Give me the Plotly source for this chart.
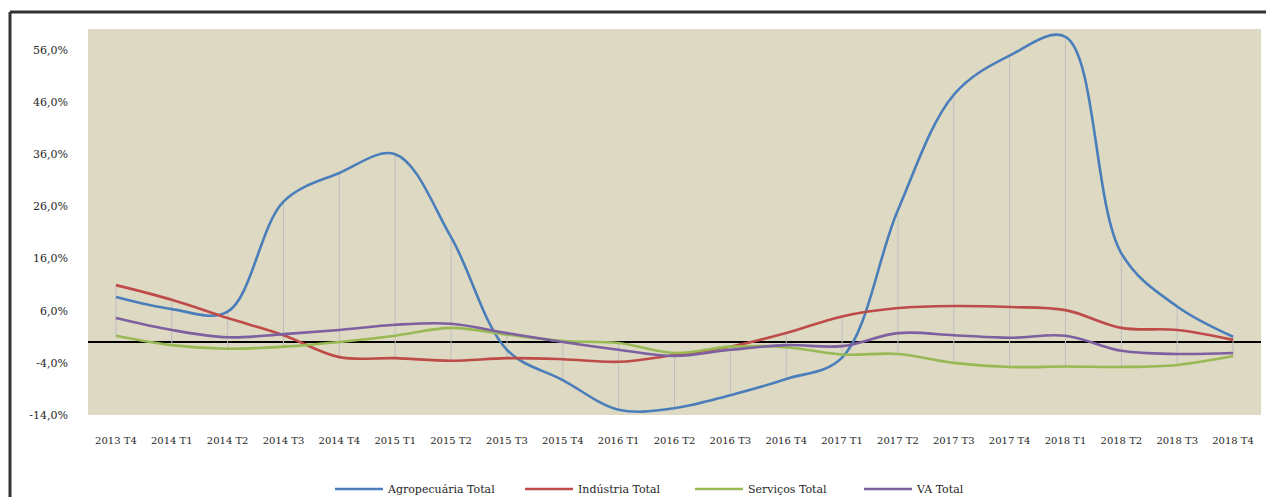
import plotly.graph_objects as go

categories = ["2013 T4", "2014 T1", "2014 T2", "2014 T3", "2014 T4", "2015 T1", "2015 T2",
              "2015 T3", "2015 T4", "2016 T1", "2016 T2", "2016 T3", "2016 T4", "2017 T1",
              "2017 T2", "2017 T3", "2017 T4", "2018 T1", "2018 T2", "2018 T3", "2018 T4"]

agro = [8.6, 6.3, 5.8, 26.9, 32.4, 36.0, 20.1, -1.5, -7.3, -13.0, -12.7, -10.2, -7.1, -3.0,
        25.3, 47.4, 54.9, 58.5, 17.0, 6.8, 1.0]
industria = [10.9, 8.1, 4.6, 1.3, -2.9, -3.1, -3.6, -3.1, -3.3, -3.8, -2.5, -0.9, 1.7, 4.9,
             6.5, 6.9, 6.7, 6.1, 2.7, 2.3, 0.4]
servicos = [1.2, -0.6, -1.3, -0.9, 0.0, 1.2, 2.7, 1.4, 0.2, -0.2, -2.1, -0.9, -1.0, -2.4,
            -2.3, -4.0, -4.8, -4.7, -4.8, -4.4, -2.7]
va = [4.6, 2.3, 0.9, 1.5, 2.3, 3.3, 3.5, 1.7, 0.0, -1.5, -2.7, -1.5, -0.6, -0.8,
      1.7, 1.3, 0.8, 1.2, -1.7, -2.3, -2.1]

series_names = ["Agropecuária Total", "Indústria Total", "Serviços Total", "VA Total"]
series_values = [agro, industria, servicos, va]
series_colors = ["#4A7EBB", "#BE4B48", "#98B954", "#7D60A0"]

ytick_vals = [56, 46, 36, 26, 16, 6, -4, -14]
ytick_text = ["56,0%", "46,0%", "36,0%", "26,0%", "16,0%", "6,0%", "-4,0%", "-14,0%"]

# page body has an 8px margin: figure is drawn 8px smaller, coords in reference pixels
OFF = 8
W, H = 1274 - OFF, 497 - OFF
L, R, T, B = 88, 1261, 29, 415          # plot area in reference pixels
pw, ph = R - L, B - T


def px(x):
    return (x - L) / pw


def py(y):
    return (B - y) / ph


TXT = "#262626"
FONT = "DejaVu Serif"

fig = go.Figure()

# high-low lines (max to min across series at each category)
hx, hy = [], []
for i, c in enumerate(categories):
    vals = [s[i] for s in series_values]
    hx += [c, c, None]
    hy += [max(vals), min(vals), None]
fig.add_trace(go.Scatter(x=hx, y=hy, mode="lines", line=dict(color="#BFBFBF", width=1),
                         showlegend=False, hoverinfo="skip"))

legend_ids = ["legend", "legend2", "legend3", "legend4"]
legend_x = [330, 520, 690, 859]
for name, vals, col, lid in zip(series_names, series_values, series_colors, legend_ids):
    fig.add_trace(go.Scatter(x=categories, y=vals, mode="lines", name=name, legend=lid,
                             line=dict(color=col, width=2.6, shape="spline", smoothing=1.0)))

legend_common = dict(orientation="h", xanchor="left", yanchor="middle", y=py(489),
                     font=dict(family=FONT, size=11, color=TXT),
                     bgcolor="rgba(0,0,0,0)", borderwidth=0, itemwidth=48)
layout_legends = {lid: dict(legend_common, x=px(lx)) for lid, lx in zip(legend_ids, legend_x)}

fig.update_layout(
    width=W, height=H,
    margin=dict(l=L - OFF, r=(1274 - R), t=T - OFF, b=497 - B, autoexpand=False),
    paper_bgcolor="white",
    plot_bgcolor="#DDD9C3",
    font=dict(family=FONT, size=10, color=TXT),
    showlegend=True,
    xaxis=dict(type="category", showgrid=False, showline=False, ticks="",
               ticklabelstandoff=18, tickfont=dict(family=FONT, size=10, color=TXT),
               range=[-0.5, len(categories) - 0.5]),
    yaxis=dict(range=[-14, 60], tickvals=ytick_vals, ticktext=ytick_text,
               showgrid=False, showline=False, ticks="", ticklabelstandoff=19,
               zeroline=True, zerolinecolor="black", zerolinewidth=1.5,
               tickfont=dict(family=FONT, size=11, color=TXT)),
    shapes=[
        dict(type="line", xref="paper", yref="paper", x0=px(10), x1=px(1290),
             y0=py(12), y1=py(12), line=dict(color="#333333", width=3)),
        dict(type="line", xref="paper", yref="paper", x0=px(10), x1=px(10),
             y0=py(12), y1=py(510), line=dict(color="#333333", width=3)),
    ],
    **layout_legends,
)

fig.write_html("out.html")
